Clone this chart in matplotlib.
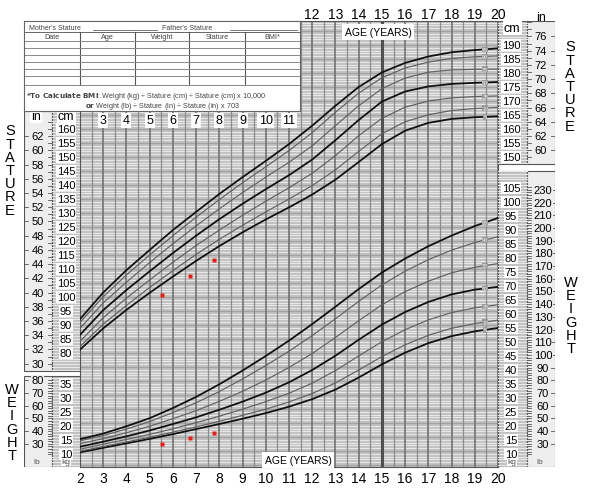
import numpy as np
import matplotlib
matplotlib.use("Agg")
import matplotlib.pyplot as plt
from matplotlib.patches import Rectangle

plt.rcParams["font.family"] = ["Liberation Sans", "DejaVu Sans"]

# ages in years, one value per year
ages = list(range(2, 21))

# stature-for-age percentiles (cm)
stature_p5 = [81.2, 88.8, 95.4, 101.5, 107.3, 112.9, 118.2, 123.1, 127.7, 132.0,
              136.6, 141.9, 148.2, 154.6, 159.4, 162.2, 163.6, 164.2, 164.5]
stature_p10 = [82.3, 90.3, 97.0, 103.4, 109.4, 115.2, 120.6, 125.6, 130.4, 135.0,
               139.8, 145.4, 152.0, 158.3, 162.6, 165.1, 166.6, 167.3, 167.7]
stature_p25 = [84.2, 92.6, 99.6, 106.1, 112.4, 118.4, 123.9, 129.2, 134.2, 139.0,
               144.2, 150.5, 157.6, 163.8, 167.8, 170.0, 171.1, 171.6, 171.8]
stature_p50 = [86.5, 95.3, 102.5, 109.2, 115.7, 121.9, 127.8, 133.3, 138.5, 143.5,
               149.1, 156.0, 163.2, 169.8, 173.4, 175.2, 176.1, 176.5, 176.8]
stature_p75 = [88.8, 97.9, 105.3, 112.3, 119.0, 125.4, 131.5, 137.3, 142.8, 148.1,
               154.0, 161.2, 168.3, 174.4, 178.2, 180.3, 181.1, 181.3, 181.4]
stature_p90 = [90.9, 100.1, 107.9, 115.0, 121.9, 128.5, 134.8, 140.8, 146.5, 152.3,
               158.7, 166.0, 172.8, 178.3, 181.8, 183.9, 185.2, 185.8, 186.1]
stature_p95 = [92.1, 101.6, 109.6, 116.8, 123.9, 130.4, 136.8, 142.8, 148.6, 154.6,
               161.2, 168.3, 175.0, 180.2, 183.6, 185.9, 187.4, 188.2, 188.8]

# weight-for-age percentiles (kg)
weight_p5 = [10.6, 12.2, 13.8, 15.4, 17.1, 18.9, 20.7, 22.6, 24.6, 26.9,
             29.6, 33.0, 37.3, 42.0, 46.2, 49.6, 52.1, 53.8, 55.0]
weight_p10 = [11.0, 12.7, 14.3, 16.0, 17.8, 19.7, 21.7, 23.8, 26.0, 28.6,
              31.6, 35.4, 40.0, 44.8, 49.0, 52.4, 54.9, 56.6, 57.8]
weight_p25 = [11.7, 13.5, 15.2, 17.0, 19.0, 21.2, 23.5, 26.0, 28.7, 31.7,
              35.3, 39.8, 45.0, 50.1, 54.4, 57.9, 60.5, 62.2, 63.3]
weight_p50 = [12.6, 14.4, 16.3, 18.4, 20.7, 23.1, 25.8, 28.7, 31.9, 35.6,
              40.0, 45.1, 50.8, 56.2, 60.7, 64.3, 67.0, 68.7, 69.7]
weight_p75 = [13.7, 15.5, 17.6, 19.9, 22.6, 25.5, 28.8, 32.4, 36.4, 40.9,
              45.9, 51.6, 57.6, 63.3, 68.0, 71.7, 74.7, 76.7, 78.0]
weight_p90 = [14.7, 16.6, 18.9, 21.6, 24.8, 28.3, 32.3, 36.8, 41.6, 46.7,
              52.3, 58.3, 64.5, 70.4, 75.3, 79.4, 82.8, 85.5, 87.6]
weight_p95 = [15.3, 17.3, 19.9, 22.8, 26.4, 30.4, 34.9, 39.8, 45.0, 50.5,
              56.4, 62.6, 68.9, 74.8, 79.8, 84.2, 88.0, 91.4, 94.3]

percentiles = [5, 10, 25, 50, 75, 90, 95]

# recorded visits
visit_age = [5.53, 6.74, 7.78]
visit_stature = [100.7, 107.5, 113.2]
visit_weight = [13.5, 15.7, 17.4]

# scale labels
bottom_ages = list(range(2, 21))
inner_ages = list(range(3, 12))
top_ages = list(range(12, 21))
cm_left = list(range(80, 161, 5))
in_left = list(range(30, 63, 2))
kg_left = list(range(10, 36, 5))
lb_left = list(range(30, 81, 10))
cm_right = list(range(150, 191, 5))
in_right = list(range(60, 77, 2))
kg_right = list(range(10, 106, 5))
lb_right = list(range(30, 231, 10))

stature_curves = dict(zip(percentiles, [stature_p5, stature_p10, stature_p25, stature_p50,
                                        stature_p75, stature_p90, stature_p95]))
weight_curves = dict(zip(percentiles, [weight_p5, weight_p10, weight_p25, weight_p50,
                                       weight_p75, weight_p90, weight_p95]))

# layout: chart drawn in cm units, weight shifted onto the same vertical scale
W, H = 591, 502


def s_of(py):
    return 160 - (py - 130) / 2.8


KG_OFF = s_of(455) - 10
Y0, Y1 = s_of(468), s_of(22)
GRID_BG = "#c0c0c0"
GRID_LINE = "#e8e8e8"


def box(x0, y0, x1, y1):
    return [x0 / W, 1 - y1 / H, (x1 - x0) / W, (y1 - y0) / H]


fig = plt.figure(figsize=(W / 100, H / 100), dpi=100)

# main grid
ax = fig.add_axes(box(80, 22, 498, 468))
ax.set_xlim(2, 20)
ax.set_ylim(Y0, Y1)
ax.set_facecolor(GRID_BG)
for v in range(40, 199):
    ax.axhline(v, color="#a2a2a2" if v % 5 == 0 else GRID_LINE, lw=0.8, zorder=1)
for a in np.arange(2, 20.01, 0.5):
    if a == 15:
        ax.axvline(a, color="#505050", lw=2.2, zorder=2)
    elif a == int(a):
        ax.axvline(a, color="#727272", lw=1.2, zorder=2)
    else:
        ax.axvline(a, color="#8c8c8c", lw=0.9, zorder=2)

for p in percentiles:
    bold = p in (5, 50, 95)
    col = "#111111" if bold else "#606060"
    lw = 1.3 if bold else 0.85
    ax.plot(ages, stature_curves[p], color=col, lw=lw, zorder=3)
    ax.plot(ages, np.array(weight_curves[p]) + KG_OFF, color=col, lw=lw, zorder=3)
    for curve, off in ((stature_curves[p], 0), (weight_curves[p], KG_OFF)):
        yl = np.interp(19.45, ages, curve) + off
        ax.text(19.45, yl, str(p), fontsize=3.8, color="#e6e6e6", ha="center", va="center",
                zorder=4, bbox=dict(boxstyle="square,pad=0.05", fc="#9a9a9a", ec="none"))

ax.plot(visit_age, visit_stature, "s", color="#e3211c", ms=3.2, mec="none", zorder=5)
ax.plot(visit_age, np.array(visit_weight) + KG_OFF, "s", color="#e3211c", ms=3.2,
        mec="none", zorder=5)

ax.set_xticks(bottom_ages)
ax.set_xticklabels([str(a) for a in bottom_ages])
ax.tick_params(axis="x", length=0, labelsize=10, pad=3)
ax.set_yticks([])
for sp in ax.spines.values():
    sp.set_color("#555555")
    sp.set_linewidth(0.8)

xt = ax.get_xaxis_transform()
for a in top_ages:
    ax.text(a, (468 - 15) / 446, str(a), transform=xt, ha="center", va="center",
            fontsize=10, clip_on=False)
for a in inner_ages:
    ax.text(a, s_of(121), str(a), ha="center", va="center", fontsize=9, zorder=6,
            bbox=dict(boxstyle="square,pad=0.12", fc="white", ec="none"))
ax.text(14.83, s_of(33), "AGE (YEARS)", ha="center", va="center", fontsize=7.5, zorder=6,
        bbox=dict(boxstyle="square,pad=0.25", fc="white", ec="none"))
ax.text(11.39, s_of(461), "AGE (YEARS)", ha="center", va="center", fontsize=7.5, zorder=6,
        bbox=dict(boxstyle="square,pad=0.25", fc="white", ec="none"))


def column(axc, x0, x1, s0, s1, striped):
    axc.add_patch(Rectangle((x0, s0), x1 - x0, s1 - s0, fc=GRID_BG if striped else "#eeeeee",
                            ec="#555555", lw=0.8, zorder=1))
    if striped:
        for v in range(int(np.ceil(s0)), int(s1) + 1):
            axc.plot([x0, x1], [v, v], color=GRID_LINE, lw=0.8, zorder=1.5)


def ticks(axc, xedge, vals, sign):
    for v in vals:
        axc.plot([xedge, xedge + sign * 4], [v, v], color="#555555", lw=0.6, zorder=2)


lab_box = dict(boxstyle="square,pad=0.1", fc="white", ec="none")
pale_box = dict(boxstyle="square,pad=0.05", fc="#eeeeee", ec="none")

# left scale columns
axL = fig.add_axes(box(24, 22, 80, 468))
axL.set_xlim(24, 80)
axL.set_ylim(Y0, Y1)
axL.axis("off")
st_lo, st_hi = s_of(372), s_of(112)
wt_hi = s_of(377)
column(axL, 24, 52, st_lo, st_hi, False)
column(axL, 52, 80, st_lo, st_hi, True)
column(axL, 24, 52, Y0, wt_hi, False)
column(axL, 52, 80, Y0, wt_hi, True)
ticks(axL, 52, [i * 2.54 for i in range(29, 65)], -1)
ticks(axL, 24, [i * 2.54 for i in in_left], 1)
ticks(axL, 52, [lb * 0.4536 + KG_OFF for lb in range(22, 82, 2)], -1)
ticks(axL, 24, [lb * 0.4536 + KG_OFF for lb in lb_left], 1)
for i in in_left:
    axL.text(37.5, i * 2.54, str(i), ha="center", va="center", fontsize=8, zorder=3,
             bbox=pale_box)
for c in cm_left:
    axL.text(66, c, str(c), ha="center", va="center", fontsize=8, zorder=3, bbox=lab_box)
for lb in lb_left:
    axL.text(37.5, lb * 0.4536 + KG_OFF, str(lb), ha="center", va="center", fontsize=8,
             zorder=3, bbox=pale_box)
for k in kg_left:
    axL.text(66, k + KG_OFF, str(k), ha="center", va="center", fontsize=8, zorder=3,
             bbox=lab_box)
axL.text(36, s_of(117), "in", ha="center", va="center", fontsize=9, zorder=3, bbox=lab_box)
axL.text(66, s_of(117), "cm", ha="center", va="center", fontsize=9, zorder=3, bbox=lab_box)
axL.text(37, s_of(463), "lb", ha="center", va="center", fontsize=6, zorder=3,
         color="#555555")
axL.text(66, s_of(463), "kg", ha="center", va="center", fontsize=6, zorder=3,
         color="#555555", bbox=lab_box)

# right scale columns
axR = fig.add_axes(box(498, 22, 555, 468))
axR.set_xlim(498, 555)
axR.set_ylim(Y0, Y1)
axR.axis("off")
rs_lo = s_of(165)
rw_hi = s_of(172)
column(axR, 498, 527, rs_lo, Y1, True)
column(axR, 527, 555, rs_lo, Y1, False)
column(axR, 498, 527, Y0, rw_hi, True)
column(axR, 527, 555, Y0, rw_hi, False)
ticks(axR, 527, [i * 2.54 for i in range(59, 79)], 1)
ticks(axR, 555, [i * 2.54 for i in in_right], -1)
ticks(axR, 527, [lb * 0.4536 + KG_OFF for lb in range(22, 234, 2)], 1)
ticks(axR, 555, [lb * 0.4536 + KG_OFF for lb in lb_right], -1)
for c in cm_right:
    axR.text(511, c, str(c), ha="center", va="center", fontsize=8, zorder=3, bbox=lab_box)
for i in in_right:
    axR.text(541, i * 2.54, str(i), ha="center", va="center", fontsize=8, zorder=3,
             bbox=pale_box)
for k in kg_right:
    axR.text(511, k + KG_OFF, str(k), ha="center", va="center", fontsize=8, zorder=3,
             bbox=lab_box)
for lb in lb_right:
    axR.text(543, lb * 0.4536 + KG_OFF, str(lb), ha="center", va="center", fontsize=8,
             zorder=3, bbox=pale_box)
axR.text(512, s_of(29), "cm", ha="center", va="center", fontsize=9, zorder=3, bbox=lab_box)
axR.text(541, s_of(18), "in", ha="center", va="center", fontsize=9, zorder=3,
         clip_on=False)
axR.text(512, s_of(463), "kg", ha="center", va="center", fontsize=6, zorder=3,
         color="#555555", bbox=lab_box)
axR.text(540, s_of(463), "lb", ha="center", va="center", fontsize=6, zorder=3,
         color="#555555")

# record table
tbl = fig.add_axes(box(24, 22, 300, 112))
tbl.set_zorder(5)
tbl.set_xlim(24, 300)
tbl.set_ylim(112, 22)
tbl.set_xticks([])
tbl.set_yticks([])
for sp in tbl.spines.values():
    sp.set_color("#666666")
    sp.set_linewidth(0.8)
tc = "#444444"
tbl.text(29, 28.5, "Mother's Stature", fontsize=5, color=tc, va="center")
tbl.plot([93, 157], [30.5, 30.5], color=tc, lw=0.5)
tbl.text(162, 28.5, "Father's Stature", fontsize=5, color=tc, va="center")
tbl.plot([230, 297], [30.5, 30.5], color=tc, lw=0.5)
tbl.plot([24, 300], [33, 33], color="#666666", lw=0.7)
cols = [24, 80, 135, 189, 245, 300]
for x in cols[1:-1]:
    tbl.plot([x, x], [33, 86], color="#555555", lw=0.8)
for name, x0, x1 in zip(["Date", "Age", "Weight", "Stature", "BMI*"], cols[:-1], cols[1:]):
    tbl.text((x0 + x1) / 2, 37.5, name, fontsize=5.2, color=tc, ha="center", va="center")
for y in [42, 49, 56, 63, 70, 77, 86]:
    tbl.plot([24, 300], [y, y], color="#888888", lw=0.7)
tbl.text(26, 96, r"$\bf{*To\ Calculate\ BMI}$: Weight (kg) ÷ Stature (cm) ÷ Stature (cm) x 10,000",
         fontsize=5.2, color=tc, va="center")
tbl.text(162, 106.5, r"$\bf{or}$ Weight (lb) ÷ Stature (in) ÷ Stature (in) x 703",
         fontsize=5.2, color=tc, va="center", ha="center")

# side titles
for word, x, yc in (("STATURE", 10, 171), ("WEIGHT", 12, 423), ("STATURE", 570, 87),
                    ("WEIGHT", 571, 316)):
    fig.text(x / W, 1 - yc / H, "\n".join(word), ha="center", va="center", fontsize=10.5,
             linespacing=0.93)

fig.savefig("out.png", dpi=100)
